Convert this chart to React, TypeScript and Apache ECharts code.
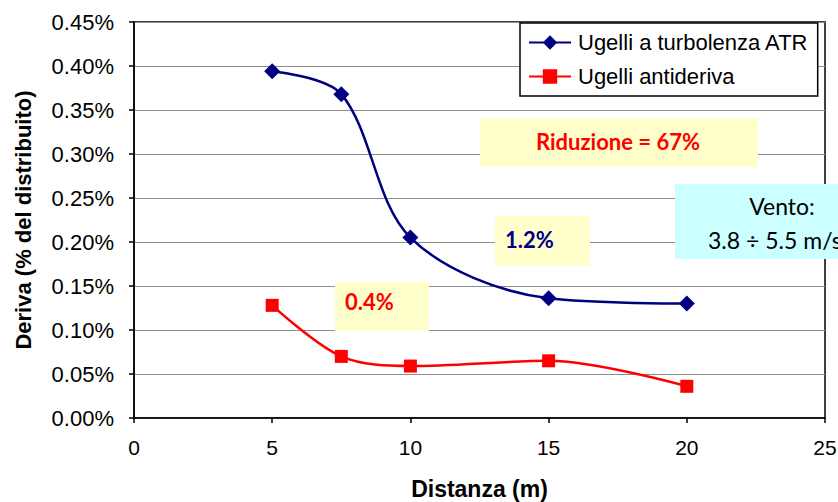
import React, { useEffect, useRef } from "react";
import * as echarts from "echarts";

const distances = [5, 7.5, 10, 15, 20];
const atrValues = [0.394, 0.368, 0.205, 0.136, 0.13];
const antiValues = [0.128, 0.07, 0.059, 0.065, 0.036];
const seriesNames = ["Ugelli a turbolenza ATR", "Ugelli antideriva"];
const xTitle = "Distanza (m)";
const yTitle = "Deriva (% del distribuito)";
const notes = {
  riduzione: "Riduzione = 67%",
  atr: "1.2%",
  anti: "0.4%",
  vento1: "Vento:",
  vento2: "3.8 ÷ 5.5 m/s",
};

const ARIAL = "'Liberation Sans', Arial, sans-serif";
const CALIBRI = "Lato, 'Open Sans', sans-serif";

export default function App() {
  const ref = useRef<HTMLDivElement>(null);
  useEffect(() => {
    if (!ref.current) return;
    const chart = echarts.init(ref.current, null, { renderer: "svg" });
    const pair = (ys: number[]) => distances.map((x, i) => [x, ys[i]]);
    chart.setOption({
      animation: false,
      backgroundColor: "#ffffff",
      grid: {
        left: 134,
        right: 13,
        top: 22,
        bottom: 84,
        outerBoundsMode: "none",
        containLabel: false,
        show: true,
        borderColor: "#000",
        borderWidth: 1.5,
        backgroundColor: "transparent",
      },
      legend: {
        orient: "vertical",
        left: 520,
        top: 23,
        data: seriesNames,
        backgroundColor: "#fff",
        borderColor: "#000",
        borderWidth: 1.5,
        borderRadius: 0,
        padding: [8, 9, 8, 8],
        itemWidth: 42,
        itemHeight: 18,
        itemGap: 11,
        textStyle: {
          fontFamily: ARIAL,
          fontSize: 22,
          color: "#000",
          lineHeight: 23,
          padding: [0, 0, 0, 2],
        },
        z: 10,
      },
      xAxis: {
        type: "value",
        min: 0,
        max: 25,
        interval: 5,
        name: xTitle,
        nameLocation: "middle",
        nameGap: 59,
        nameTextStyle: { fontFamily: ARIAL, fontSize: 23, fontWeight: "bold", color: "#000" },
        axisLine: { lineStyle: { color: "#000", width: 1.5 } },
        axisTick: { show: true, length: 5, inside: false, lineStyle: { color: "#000", width: 1.5 } },
        axisLabel: { fontFamily: ARIAL, fontSize: 21, color: "#000", margin: 19 },
        splitLine: { show: false },
      },
      yAxis: {
        type: "value",
        min: 0,
        max: 0.45,
        interval: 0.05,
        name: yTitle,
        nameLocation: "middle",
        nameGap: 100,
        nameTextStyle: { fontFamily: ARIAL, fontSize: 22, fontWeight: "bold", color: "#000" },
        axisLine: { show: true, lineStyle: { color: "#000", width: 1.5 } },
        axisTick: { show: true, length: 5, inside: false, lineStyle: { color: "#000", width: 1.5 } },
        axisLabel: {
          fontFamily: ARIAL,
          fontSize: 22,
          color: "#000",
          margin: 20,
          formatter: (v: number) => v.toFixed(2) + "%",
        },
        splitLine: { show: true, lineStyle: { color: "#8c8c8c", width: 1 } },
      },
      series: [
        {
          name: seriesNames[0],
          type: "line",
          data: pair(atrValues),
          smooth: 0.33,
          symbol: "diamond",
          symbolSize: 16,
          itemStyle: { color: "#000080" },
          lineStyle: { color: "#000080", width: 2.5 },
          z: 3,
        },
        {
          name: seriesNames[1],
          type: "line",
          data: pair(antiValues),
          smooth: 0.33,
          symbol: "rect",
          symbolSize: 13,
          itemStyle: { color: "#ff0000" },
          lineStyle: { color: "#ff0000", width: 2.5 },
          z: 3,
        },
      ],
      graphic: [
        { type: "rect", z: 20, shape: { x: 480, y: 118, width: 278, height: 49 }, style: { fill: "#ffffcc" } },
        {
          type: "text", z: 21, x: 618, y: 141,
          style: { text: notes.riduzione, fill: "#ff0000", font: `bold 22px ${CALIBRI}`, align: "center", verticalAlign: "middle" },
        },
        { type: "rect", z: 20, shape: { x: 495, y: 216, width: 95, height: 50 }, style: { fill: "#ffffcc" } },
        {
          type: "text", z: 21, x: 505, y: 239,
          style: { text: notes.atr, fill: "#000080", font: `bold 22px ${CALIBRI}`, align: "left", verticalAlign: "middle" },
        },
        { type: "rect", z: 20, shape: { x: 335, y: 282, width: 94, height: 49 }, style: { fill: "#ffffcc" } },
        {
          type: "text", z: 21, x: 345, y: 301,
          style: { text: notes.anti, fill: "#ff0000", font: `bold 22px ${CALIBRI}`, align: "left", verticalAlign: "middle" },
        },
        { type: "rect", z: 20, shape: { x: 675, y: 184, width: 180, height: 75 }, style: { fill: "#ccffff" } },
        {
          type: "text", z: 21, x: 782, y: 206,
          style: { text: notes.vento1, fill: "#000", font: `23px ${CALIBRI}`, align: "center", verticalAlign: "middle" },
        },
        {
          type: "text", z: 21, x: 708, y: 240,
          style: { text: notes.vento2, fill: "#000", font: `23px ${CALIBRI}`, align: "left", verticalAlign: "middle" },
        },
      ],
    });
    return () => chart.dispose();
  }, []);
  return (
    <div
      ref={ref}
      style={{ position: "fixed", left: 0, top: 0, width: 838, height: 502, overflow: "hidden" }}
    />
  );
}
